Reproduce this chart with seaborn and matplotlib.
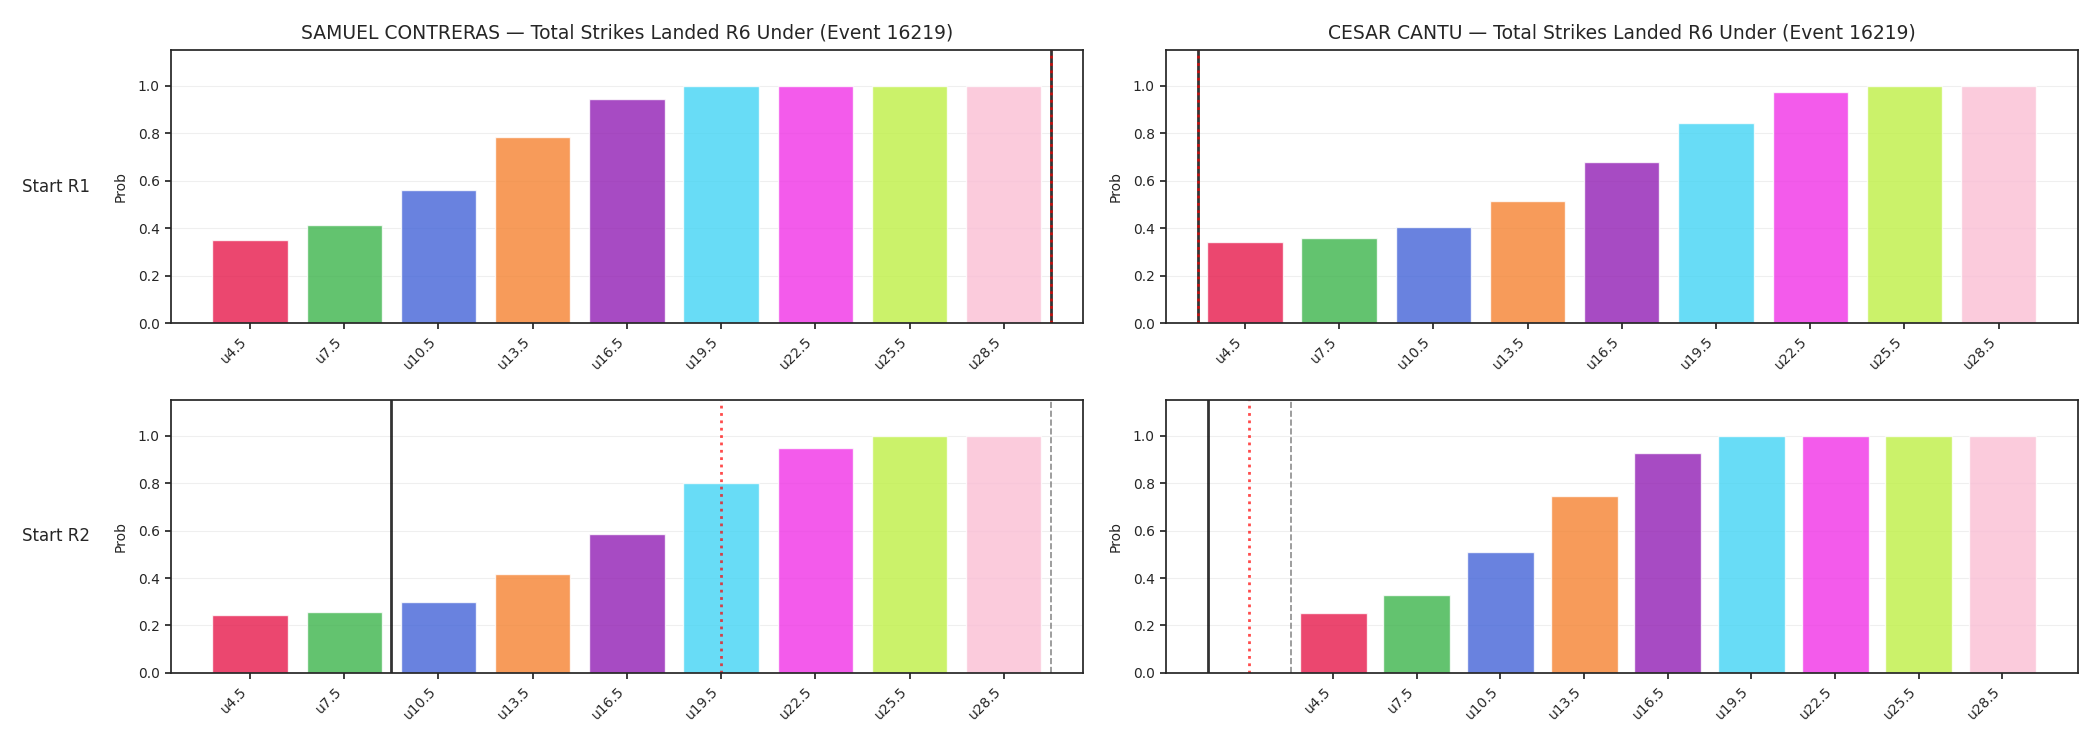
import matplotlib
matplotlib.use("Agg")
import matplotlib.pyplot as plt
import seaborn as sns
import pandas as pd

# ---- data ----
lines_labels = ["u4.5", "u7.5", "u10.5", "u13.5", "u16.5", "u19.5", "u22.5", "u25.5", "u28.5"]
samuel_r1 = [0.351, 0.413, 0.562, 0.782, 0.942, 0.997, 0.997, 0.997, 0.997]
cesar_r1 = [0.342, 0.359, 0.406, 0.515, 0.680, 0.844, 0.972, 0.997, 0.997]
samuel_r2 = [0.244, 0.258, 0.300, 0.418, 0.587, 0.799, 0.946, 0.997, 0.997]
cesar_r2 = [0.254, 0.330, 0.511, 0.744, 0.927, 0.997, 0.997, 0.997, 0.997]

fighters = ["SAMUEL CONTRERAS", "CESAR CANTU"]
rows = ["Start R1", "Start R2"]
title_suffix = " — Total Strikes Landed R6 Under (Event 16219)"

# reference markers (in category-index units): black solid, red dotted, gray dashed
black_marks = [[8.5, -0.5], [1.5, -1.5]]
red_marks = [[8.5, -0.5], [5.0, -1.0]]
gray_marks = [[None, None], [8.5, -0.5]]
xlims = [[(-0.84, 8.84), (-0.84, 8.84)], [(-0.84, 8.84), (-2.0, 8.9)]]

palette = ["#e6194B", "#3cb44b", "#4363d8", "#f58231", "#911eb4",
           "#42d4f4", "#f032e6", "#bfef45", "#fabed4"]

values = [[samuel_r1, cesar_r1], [samuel_r2, cesar_r2]]

sns.set_style("ticks")
plt.rcParams["font.family"] = ["DejaVu Sans"]

fig, axes = plt.subplots(2, 2, figsize=(21, 7.5), dpi=100)
fig.subplots_adjust(left=0.0814, right=0.9894, top=0.9333, bottom=0.1027,
                    wspace=0.091, hspace=0.282)

for r in range(2):
    for c in range(2):
        ax = axes[r][c]
        df = pd.DataFrame({"line": lines_labels, "prob": values[r][c]})
        sns.barplot(data=df, x="line", y="prob", hue="line", palette=palette,
                    legend=False, alpha=0.8, width=0.8, ax=ax, saturation=1)
        ax.grid(axis="y", alpha=0.3)
        ax.set_axisbelow(True)
        ax.set_xlabel("")
        ax.set_ylabel("Prob", fontsize=10, labelpad=7)
        ax.tick_params(axis="both", labelsize=10, length=4.5, width=1.25)
        plt.setp(ax.get_xticklabels(), rotation=45, ha="right")
        for s in ax.spines.values():
            s.set_visible(True)
            s.set_linewidth(1.25)
        if black_marks[r][c] is not None:
            ax.axvline(black_marks[r][c], color="black", alpha=0.8, lw=2)
        if red_marks[r][c] is not None:
            ax.axvline(red_marks[r][c], color="red", alpha=0.7, lw=2, ls=":")
        if gray_marks[r][c] is not None:
            ax.axvline(gray_marks[r][c], color="gray", alpha=0.9, lw=1.2, ls="--")
        ax.set_ylim(0, 1.15)
        ax.set_xlim(*xlims[r][c])
        if r == 0:
            ax.set_title(fighters[c] + title_suffix, fontsize=13.5, pad=8)
        if c == 0:
            ax.text(-0.089, 0.5, rows[r], transform=ax.transAxes, ha="right",
                    va="center", fontsize=12)

fig.savefig("out.png", dpi=100)
